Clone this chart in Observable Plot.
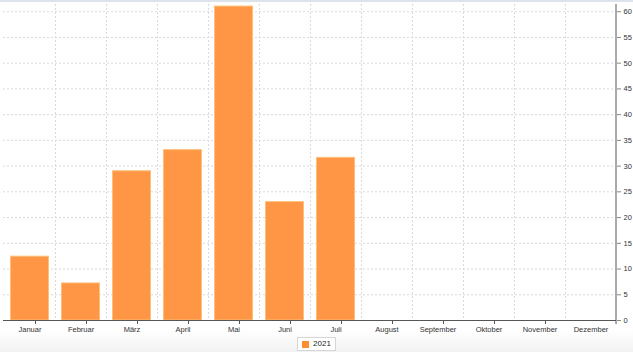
<!DOCTYPE html>
<html><head><meta charset="utf-8">
<script src="https://cdn.jsdelivr.net/npm/d3@7"></script>
<script src="https://cdn.jsdelivr.net/npm/@observablehq/plot@0.6"></script>
<style>
html,body{margin:0;padding:0;width:633px;height:352px;overflow:hidden;font-family:"Liberation Sans",Arial,sans-serif;
background:linear-gradient(to bottom,#fff 0,#fff 330px,#f2f2f2 352px);}
#topbar{position:absolute;left:0;top:0;width:633px;height:2px;background:#dde3ea;}
#chart{position:absolute;left:0;top:0;}
#legend{position:absolute;top:337px;left:0;width:633px;display:flex;justify-content:center;}
#legend .box{border:1px solid #d6d6d6;background:#fff;padding:1px 4px;font-size:8px;color:#222;display:flex;align-items:center;gap:4px;line-height:10px;}
#legend .sw{width:7px;height:7px;background:#fe8d2f;display:inline-block;}
svg{overflow:visible}
</style></head>
<body>
<div id="chart"></div>
<div id="topbar"></div>
<div id="legend"></div>
<script>
const months = ["Januar","Februar","März","April","Mai","Juni","Juli","August","September","Oktober","November","Dezember"];
const values2021 = [12.4, 7.2, 29.0, 33.1, 61.0, 23.0, 31.6, null, null, null, null, null];
const yTicks = [0,5,10,15,20,25,30,35,40,45,50,55,60];
const seriesName = "2021";

const W = 633, H = 333, mL = 3, mR = 17, mT = 4, mB = 13;
const yMax = 61.4;
const step = (W - mL - mR) / months.length;
const data = months.map((m, i) => ({month: m, value: values2021[i]})).filter(d => d.value != null);

const chart = Plot.plot({
  width: W, height: H,
  marginLeft: mL, marginRight: mR, marginTop: mT, marginBottom: mB,
  style: {fontFamily: "Liberation Sans, Arial, sans-serif", fontSize: "7.5px", background: "transparent", color: "#333"},
  x: {domain: months, paddingInner: 0.24, paddingOuter: 0.12, axis: "bottom", tickSize: 0, tickPadding: 6, label: null},
  y: {domain: [0, yMax], axis: "right", ticks: yTicks, tickSize: 4, tickPadding: 3, label: null},
  marks: [
    Plot.ruleY(yTicks.filter(t => t > 0), {stroke: "#d9d9d9", strokeDasharray: "2,2", strokeWidth: 1}),
    Plot.ruleX(months.slice(1), {x: d => d, dx: -step / 2, stroke: "#d9d9d9", strokeDasharray: "2,2", strokeWidth: 1}),
    Plot.barY(data, {x: "month", y: "value", fill: "#fe9645", stroke: "#fcc07a", strokeWidth: 1, insetLeft: 0.5, insetRight: 0.5}),
    Plot.ruleY([0], {stroke: "#555", strokeWidth: 1})
  ]
});
document.getElementById("chart").appendChild(chart);

const xs = chart.scale("x");
const ys = chart.scale("y");
const svg = d3.select(chart);
// bottom ticks at band boundaries
const bounds = months.map(m => xs.apply(m) - xs.step / 2);
bounds.push(W - mR);
svg.append("g").selectAll("line").data(bounds).join("line")
  .attr("x1", d => d).attr("x2", d => d).attr("y1", ys.apply(0)).attr("y2", ys.apply(0) + 4)
  .attr("stroke", "#555").attr("stroke-width", 1);
// right y axis line
svg.append("line")
  .attr("x1", W - mR).attr("x2", W - mR).attr("y1", ys.apply(0)).attr("y2", ys.apply(yMax))
  .attr("stroke", "#aaa").attr("stroke-width", 2);
svg.selectAll("[aria-label='y-axis tick'] path, g[aria-label='y-axis'] line").attr("stroke", "#888");

const lg = document.getElementById("legend");
lg.innerHTML = `<div class="box"><span class="sw"></span><span>${seriesName}</span></div>`;
</script>
</body></html>
